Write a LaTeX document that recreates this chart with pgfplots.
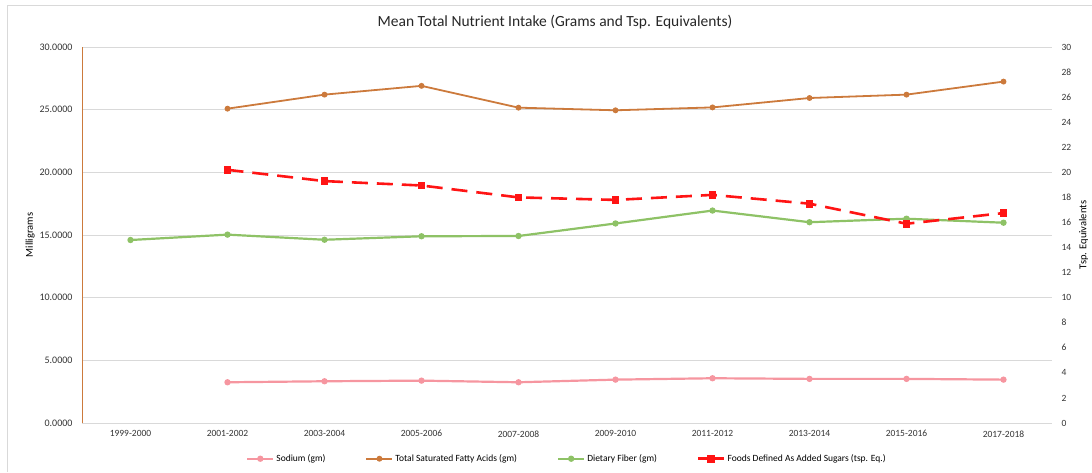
\documentclass[border=0pt]{standalone}
\usepackage{pgfplots}
\pgfplotsset{compat=1.18}
\usepackage{fontspec}
\setmainfont{Carlito}
\definecolor{sodium}{RGB}{246,150,160}
\definecolor{satfat}{RGB}{204,122,60}
\definecolor{fiber}{RGB}{142,194,102}
\definecolor{sugar}{RGB}{255,20,20}
\definecolor{gridc}{RGB}{217,217,217}

\pgfplotsset{
  base/.style={
    scale only axis, width=970pt, height=376pt,
    at={(82pt,49pt)}, anchor=south west,
    xmin=-0.5, xmax=9.5, ymin=0, ymax=30,
    tick style={draw=none},
    ticklabel style={font=\fontsize{9.5}{11}\selectfont, text=black!80},
    /pgf/number format/assume math mode=true,
  },
}

\begin{document}
\begin{tikzpicture}[x=1pt,y=1pt]
\useasboundingbox (0,0) rectangle (1092,472);
\draw[black!15] (7,0) -- (7,467) -- (1092,467);

\begin{axis}[base,
  axis x line*=bottom, axis y line*=left,
  x axis line style={gridc}, y axis line style={satfat, line width=1pt},
  xtick={0,...,9},
  xticklabels={1999-2000,2001-2002,2003-2004,2005-2006,2007-2008,2009-2010,2011-2012,2013-2014,2015-2016,2017-2018},
  xticklabel style={yshift=-4pt},
  ytick={0,5,...,30},
  yticklabel style={font=\fontsize{10}{11}\selectfont, xshift=-6pt, /pgf/number format/.cd, fixed, fixed zerofill, precision=4},
  ymajorgrids, major grid style={gridc, line width=0.8pt},
  ylabel={Milligrams}, ylabel style={font=\fontsize{10.5}{12}\selectfont, yshift=-2pt},
  legend columns=4,
  legend style={at={(0.5,-0.095)}, anchor=center, draw=none,
    font=\fontsize{9.5}{11}\selectfont,
    /tikz/every even column/.append style={column sep=38pt}},
  legend image code/.code={
    \draw[mark repeat=2, mark phase=2, #1] plot coordinates {(0pt,0pt) (13pt,0pt) (26pt,0pt)};},
]
\addplot[sodium, line width=2.2pt, mark=*, mark size=2pt] coordinates {
  (1,3.25) (2,3.33) (3,3.38) (4,3.25) (5,3.46) (6,3.57) (7,3.52) (8,3.52) (9,3.46)};
\addlegendentry{Sodium (gm)}
\addplot[satfat, line width=1.8pt, mark=*, mark size=2pt] coordinates {
  (1,25.08) (2,26.2) (3,26.9) (4,25.16) (5,24.95) (6,25.18) (7,25.93) (8,26.2) (9,27.24)};
\addlegendentry{Total Saturated Fatty Acids (gm)}
\addplot[fiber, line width=2.2pt, mark=*, mark size=2pt] coordinates {
  (0,14.6) (1,15.03) (2,14.62) (3,14.9) (4,14.92) (5,15.92) (6,16.95) (7,16.02) (8,16.3) (9,15.98)};
\addlegendentry{Dietary Fiber (gm)}
\addlegendimage{sugar, line width=2.6pt, mark=square*, mark size=2.6pt, mark options={solid}}
\addlegendentry{Foods Defined As Added Sugars (tsp. Eq.)}
\end{axis}

\begin{axis}[base,
  axis x line=none, axis y line*=right,
  y axis line style={draw=none},
  ytick={0,2,...,30},
  yticklabel style={xshift=6pt},
  ylabel={Tsp. Equivalents}, ylabel style={font=\fontsize{10.5}{12}\selectfont, yshift=-1pt},
]
\addplot[sugar, line width=2.6pt, dash pattern=on 16pt off 9pt, mark=square*, mark size=2.6pt, mark options={solid}] coordinates {
  (1,20.2) (2,19.3) (3,18.95) (4,18.0) (5,17.8) (6,18.2) (7,17.5) (8,15.9) (9,16.75)};
\end{axis}

\node[font=\fontsize{15.5}{18}\selectfont, text=black!85] at (555,450) {Mean Total Nutrient Intake (Grams and Tsp. Equivalents)};
\end{tikzpicture}
\end{document}
